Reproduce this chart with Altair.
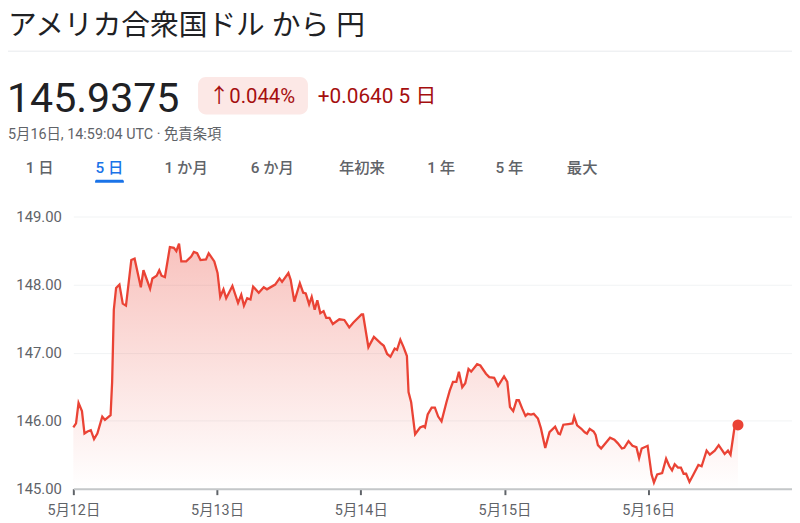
import json
import altair as alt
import pandas as pd

# ---- data (hours since 5月12日 00:00 UTC, USD/JPY rate) ----
hours = [0.0, 0.45, 0.87, 1.44, 1.86, 2.36, 2.92, 3.46, 4.01, 4.83, 5.28, 6.22, 6.48, 6.76, 7.14, 7.70,
         8.25, 8.79, 9.68, 10.23, 11.27, 11.71, 12.82, 13.20, 13.91, 14.35, 14.73, 15.29, 16.12, 16.78,
         17.20, 17.65, 18.03, 18.85, 19.68, 20.12, 20.67, 21.23, 22.15, 22.60, 23.54, 24.08, 24.53,
         25.07, 25.52, 26.56, 27.50, 28.04, 28.49, 29.03, 29.58, 30.02, 30.96, 31.79, 32.33, 33.70,
         34.43, 34.85, 35.91, 36.29, 36.90, 37.82, 38.38, 38.81, 39.37, 39.80, 40.30, 40.74, 41.24,
         41.78, 42.23, 42.77, 43.33, 44.42, 45.25, 46.07, 46.73, 48.12, 48.38, 49.27, 50.19, 51.30,
         51.84, 52.40, 52.95, 53.66, 54.05, 54.60, 55.14, 55.70, 55.97, 56.41, 57.07, 57.90, 58.44,
         58.72, 59.17, 59.83, 60.37, 60.92, 61.48, 62.30, 62.85, 63.39, 63.95, 64.38, 64.94, 65.44,
         65.98, 66.43, 67.42, 67.96, 68.90, 69.45, 70.27, 70.93, 71.92, 72.46, 72.91, 73.45, 74.01,
         74.39, 74.94, 75.50, 75.88, 76.42, 76.87, 77.58, 78.07, 78.80, 79.51, 80.45, 80.99, 81.27,
         81.82, 82.64, 83.35, 83.63, 84.12, 84.83, 85.39, 85.77, 86.22, 86.88, 87.21, 87.59, 88.13,
         88.96, 89.62, 90.34, 90.89, 91.60, 91.99, 92.70, 93.36, 94.02, 94.47, 94.90, 95.89, 96.55,
         96.95, 97.49, 98.32, 98.98, 99.52, 99.97, 100.41, 100.96, 101.45, 101.90, 102.32, 102.88,
         103.54, 104.37, 104.91, 105.74, 106.28, 107.10, 107.76, 108.75, 109.31, 109.74, 110.40, 110.98]
rates = [145.90, 145.96, 146.26, 146.14, 145.81, 145.84, 145.86, 145.73, 145.81, 146.06, 146.01, 146.08,
         146.57, 147.63, 147.95, 148.00, 147.72, 147.69, 148.36, 148.38, 147.96, 148.21, 147.94, 148.09,
         148.13, 148.21, 148.13, 148.11, 148.55, 148.54, 148.49, 148.60, 148.34, 148.34, 148.41, 148.48,
         148.46, 148.36, 148.37, 148.46, 148.34, 148.17, 147.82, 147.93, 147.80, 147.98, 147.73, 147.85,
         147.69, 147.80, 147.78, 147.97, 147.88, 147.96, 147.93, 148.00, 148.09, 148.04, 148.17, 148.07,
         147.75, 148.02, 147.88, 147.87, 147.71, 147.82, 147.63, 147.77, 147.58, 147.61, 147.51, 147.51,
         147.42, 147.49, 147.48, 147.37, 147.44, 147.56, 147.56, 147.08, 147.23, 147.14, 147.10, 146.98,
         146.94, 147.06, 147.04, 147.19, 147.08, 146.95, 146.42, 146.27, 145.80, 145.90, 145.92, 145.90,
         146.09, 146.19, 146.19, 146.06, 145.99, 146.27, 146.44, 146.57, 146.57, 146.72, 146.49, 146.55,
         146.76, 146.72, 146.83, 146.81, 146.69, 146.64, 146.63, 146.51, 146.65, 146.57, 146.20, 146.14,
         146.30, 146.30, 146.18, 146.07, 146.10, 146.09, 146.10, 146.03, 145.89, 145.60, 145.83, 145.91,
         145.81, 145.80, 145.94, 145.95, 145.96, 146.06, 145.93, 145.88, 145.83, 145.81, 145.88, 145.84,
         145.79, 145.64, 145.59, 145.68, 145.75, 145.72, 145.67, 145.59, 145.60, 145.70, 145.63, 145.61,
         145.45, 145.59, 145.63, 145.21, 145.09, 145.21, 145.23, 145.44, 145.33, 145.27, 145.36, 145.31,
         145.31, 145.22, 145.22, 145.10, 145.21, 145.35, 145.33, 145.56, 145.50, 145.56, 145.64, 145.51,
         145.56, 145.50, 145.90, 145.9375]

day_ticks = [0, 24, 48, 72, 96]
day_labels = ["5月12日", "5月13日", "5月14日", "5月15日", "5月16日"]
y_ticks = [145, 146, 147, 148, 149]

title_text = "アメリカ合衆国ドル から 円"
price_text = "145.9375"
pct_text = "↑0.044%"
chg_text = "+0.0640 5 日"
stamp_text = "5月16日, 14:59:04 UTC · 免責条項"
tabs = ["1 日", "5 日", "1 か月", "6 か月", "年初来", "1 年", "5 年", "最大"]
active_tab = 1

FONT = "Roboto, Noto Sans CJK JP, sans-serif"
RED = "#ea4335"

df = pd.DataFrame({"h": hours, "v": rates})
last = df.tail(1)

xs = alt.X("h:Q", scale=alt.Scale(domain=[0, 120], nice=False, zero=False),
           axis=alt.Axis(values=day_ticks, title=None, grid=False,
                         labelExpr=json.dumps(day_labels, ensure_ascii=False) + "[round(datum.value/24)]",
                         labelFont=FONT, labelFontSize=14.5, labelColor="#5f6368", labelPadding=9,
                         domainColor="#c4c7c9", domainWidth=2, tickColor="#5f6368", tickWidth=2,
                         tickSize=6, labelFlush=False))
ys = alt.Y("v:Q", scale=alt.Scale(domain=[145, 149], nice=False, zero=False),
           axis=alt.Axis(values=y_ticks, format=".2f", title=None, domain=False, ticks=False,
                         labelFont=FONT, labelFontSize=15, labelColor="#5f6368", labelPadding=12,
                         gridColor="#f1f3f4", gridWidth=1))

base = alt.Chart(df)
area = base.mark_area(
    color=alt.Gradient(gradient="linear",
                       stops=[alt.GradientStop(color="rgba(234,67,53,0.32)", offset=0),
                              alt.GradientStop(color="rgba(234,67,53,0.0)", offset=1)],
                       x1=1, x2=1, y1=0, y2=1)
).encode(x=xs, y=ys, y2=alt.datum(145))
line = base.mark_line(color=RED, strokeWidth=2.3).encode(x="h:Q", y="v:Q")
dot = alt.Chart(last).mark_circle(color=RED, size=125, opacity=1).encode(x="h:Q", y="v:Q")

OX, OY = 74, 216  # page position of plot origin


def txt(s, X, Y, size, color, weight="normal", align="left"):
    return alt.Chart(pd.DataFrame({"t": [s]})).mark_text(
        align=align, baseline="alphabetic", fontSize=size, color=color,
        fontWeight=weight, font=FONT
    ).encode(x=alt.value(X - OX), y=alt.value(Y - OY), text="t:N")


one = pd.DataFrame({"k": [0]})
layers = [area, line, dot]
layers.append(txt(title_text, 8, 32.5, 29, "#202124"))
layers.append(alt.Chart(one).mark_rule(color="#e8eaed", strokeWidth=1).encode(
    x=alt.value(8 - OX), x2=alt.value(800 - OX), y=alt.value(49 - OY)))
layers.append(txt(price_text, 7, 110, 41.5, "#202124"))
layers.append(alt.Chart(one).mark_rect(color="#fce8e6", cornerRadius=8).encode(
    x=alt.value(200 - OX), x2=alt.value(311 - OX), y=alt.value(75 - OY), y2=alt.value(113 - OY)))
layers.append(txt(pct_text, 211, 101, 20.5, "#a50e0e"))
layers.append(txt(chg_text, 321, 101, 21, "#a50e0e"))
layers.append(txt(stamp_text, 8, 138, 14.5, "#5f6368"))
tab_centers = [40, 110.5, 188, 275, 365.5, 445.5, 514.5, 588]
for i, (lab, cx) in enumerate(zip(tabs, tab_centers)):
    col = "#1a73e8" if i == active_tab else "#5f6368"
    layers.append(txt(lab, cx, 172, 15.5, col, weight=500, align="center"))
layers.append(alt.Chart(one).mark_rect(color="#1a73e8", cornerRadiusTopLeft=2, cornerRadiusTopRight=2).encode(
    x=alt.value(96 - OX), x2=alt.value(125 - OX), y=alt.value(179 - OY), y2=alt.value(182 - OY)))

chart = alt.layer(*layers).properties(
    width=726, height=275,
    autosize=alt.AutoSizeParams(type="none"),
    padding={"left": 66, "top": 208, "right": 0, "bottom": 30},
    background="white",
).configure_view(stroke=None)

chart.save("out.html", embed_options={"renderer": "svg", "actions": False})
